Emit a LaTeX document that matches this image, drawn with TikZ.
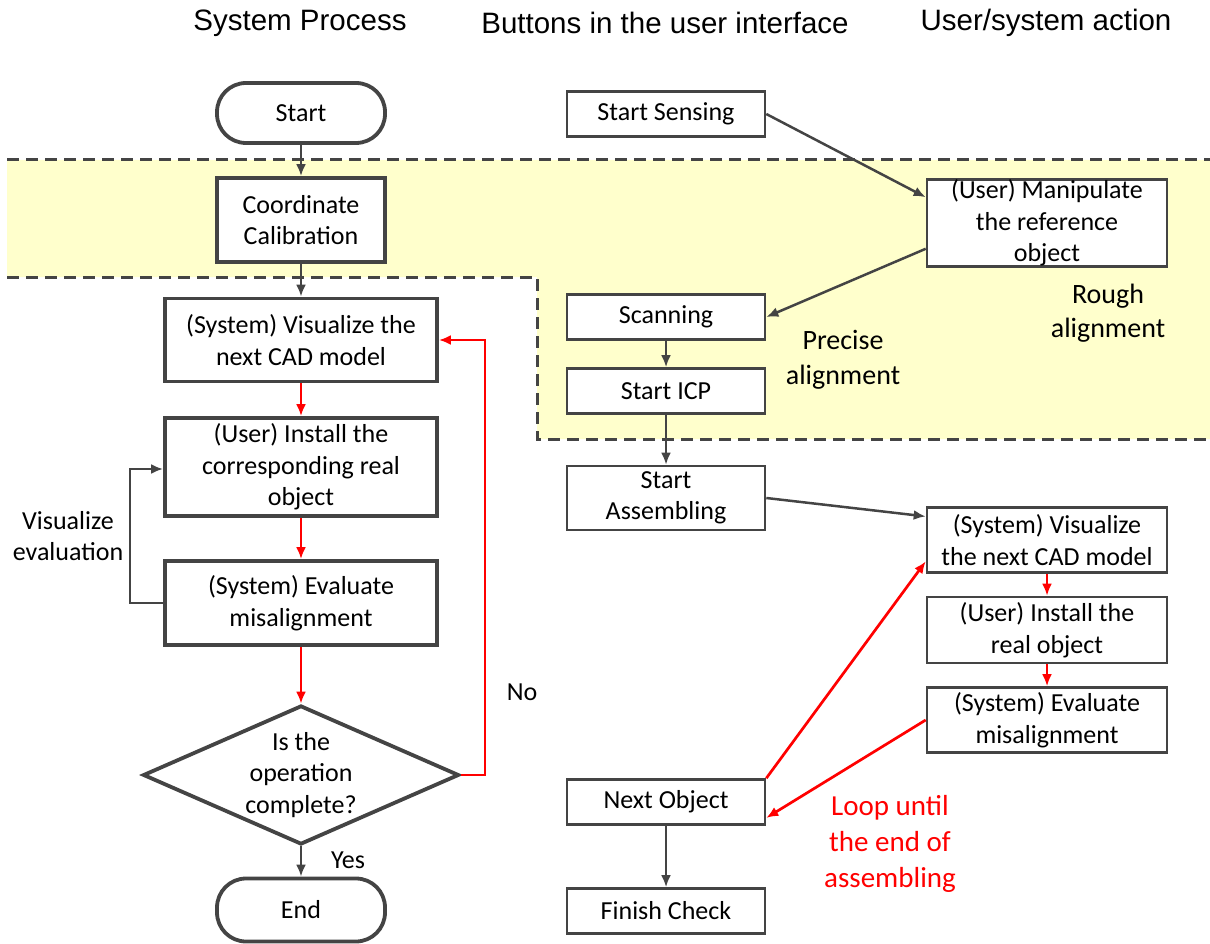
\documentclass[tikz,border=0pt]{standalone}
\usepackage{fontspec}
\setmainfont{Carlito}
\newfontfamily\headfont{Liberation Sans}
\usetikzlibrary{arrows.meta,shapes.geometric}

\definecolor{linegray}{HTML}{444444}
\definecolor{zoneyellow}{HTML}{FFFFCC}
\definecolor{loopred}{HTML}{FF0000}

\begin{document}
\begin{tikzpicture}[x=1pt,y=-1pt,>={Latex[length=12pt,width=10pt]},
  font=\fontsize{26}{31.5}\selectfont,
  head/.style={font=\headfont\fontsize{29.5}{34}\selectfont},
  mainbox/.style={draw=linegray,line width=3.8pt,fill=white,align=center,inner sep=0pt,minimum width=272pt},
  termbox/.style={mainbox,rounded corners=29pt,minimum width=168pt,minimum height=60pt},
  btnbox/.style={draw=linegray,line width=2.6pt,fill=white,align=center,inner sep=0pt,minimum width=198pt,minimum height=45pt},
  actbox/.style={btnbox,minimum width=240pt,minimum height=65pt},
  flow/.style={->,draw=linegray,line width=2.5pt},
  redflow/.style={->,draw=loopred,line width=2.7pt},
  zone/.style={draw=linegray,line width=3pt,dash pattern=on 12pt off 7pt},
  note/.style={align=center,font=\fontsize{28}{34.5}\selectfont}]
  \useasboundingbox (0,0) rectangle (1210,944);

  % shaded alignment zone
  \fill[zoneyellow] (7,160) -- (1210,160) -- (1210,439) -- (537,439) -- (537,277) -- (7,277) -- cycle;
  \draw[zone] (7,160) -- (1210,160);
  \draw[zone] (7,277) -- (537,277) -- (537,439) -- (1210,439);

  % column titles
  \node[head] (hsys) at (300,23) {System Process};
  \node[head] (hbtn) at (665,23) {Buttons in the user interface};
  \node[head] (hact) at (1046,23) {User/system action};

  % system process
  \node[termbox] (start) at (301,113) {Start};
  \node[mainbox,minimum width=168pt,minimum height=84pt] (calib) at (301,220) {Coordinate\\Calibration};
  \node[mainbox,minimum height=83pt] (visL) at (301,340) {(System) Visualize the\\next CAD model};
  \node[mainbox,minimum height=98pt] (instL) at (301,467) {(User) Install the\\corresponding real\\object};
  \node[mainbox,minimum height=84pt] (evalL) at (301,603) {(System) Evaluate\\misalignment};
  \node[draw=linegray,line width=3.8pt,fill=white,diamond,aspect=2.27,inner sep=0pt,
        minimum width=316pt,minimum height=139pt,align=center] (check) at (301,775)
        {Is the\\operation\\complete?};
  \node[termbox,minimum height=63pt] (fin) at (301,910) {End};

  \draw[flow] (start) -- (calib);
  \draw[flow] (calib) -- (visL);
  \draw[redflow] (visL) -- (instL);
  \draw[redflow] (instL) -- (evalL);
  \draw[redflow] (evalL) -- (check);
  \draw[flow] (check) -- (fin);
  \draw[redflow] (check.east) -- ++(24,0) |- (visL.east);
  \draw[flow] (evalL.west) -- ++(-33,0) |- ([yshift=-2pt]instL.west);

  \node[note,font=\fontsize{26}{31.5}\selectfont] (lblvis) at (68,536) {Visualize\\evaluation};
  \node (lblno) at (522,692) {No};
  \node (lblyes) at (348,860) {Yes};

  % buttons
  \node[btnbox] (sensing) at (666,114) {Start Sensing};
  \node[btnbox] (scan) at (666,317) {Scanning};
  \node[btnbox] (icp) at (666,391) {Start ICP};
  \node[btnbox,minimum height=64pt] (assem) at (666,498) {Start\\Assembling};
  \node[btnbox] (nextobj) at (666,802) {Next Object};
  \node[btnbox] (finish) at (666,911) {Finish Check};

  % user/system actions
  \node[actbox,minimum height=86pt] (manip) at (1047,223) {(User) Manipulate\\the reference\\object};
  \node[actbox] (visR) at (1047,540) {(System) Visualize\\the next CAD model};
  \node[actbox,minimum height=66pt] (instR) at (1047,630) {(User) Install the\\real object};
  \node[actbox] (evalR) at (1047,720) {(System) Evaluate\\misalignment};

  \draw[flow] (sensing.east) -- (manip.168);
  \draw[flow] (manip.192) -- (scan.east);
  \draw[flow] (scan) -- (icp);
  \draw[flow] (icp) -- (assem);
  \draw[flow] (assem.east) -- (visR.169);
  \draw[redflow] (visR) -- (instR);
  \draw[redflow] (instR) -- (evalR);
  \draw[redflow] (evalR.west) -- (nextobj.-9);
  \draw[redflow] (nextobj.north east) -- (visR.190);
  \draw[flow] (nextobj) -- (finish);

  \node[note] (lblprec) at (843,360) {Precise\\alignment};
  \node[note] (lblrough) at (1108,313) {Rough\\alignment};
  \node[note,text=loopred,font=\fontsize{29}{36}\selectfont] (lblloop) at (890,844) {Loop until\\the end of\\assembling};
\end{tikzpicture}
\end{document}
